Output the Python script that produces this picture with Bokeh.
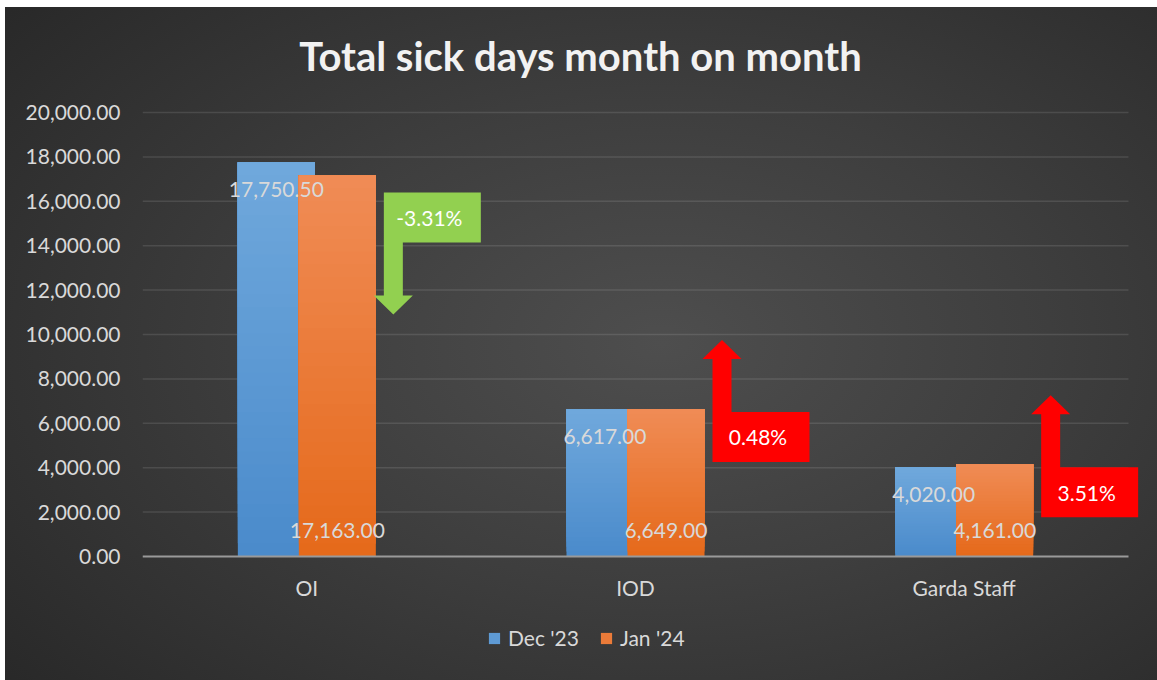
import numpy as np
from bokeh.plotting import figure
from bokeh.models import (Range1d, FixedTicker, NumeralTickFormatter, ColumnDataSource,
                          Legend, LegendItem)
from bokeh.core.properties import value
from bokeh.embed import file_html
from bokeh.resources import INLINE

# ---------------- data ----------------
categories = ["OI", "IOD", "Garda Staff"]
series_names = ["Dec '23", "Jan '24"]
dec_values = [17750.50, 6617.00, 4020.00]
jan_values = [17163.00, 6649.00, 4161.00]
y_ticks = [0, 2000, 4000, 6000, 8000, 10000, 12000, 14000, 16000, 18000, 20000]
chart_title = "Total sick days month on month"

# ---------------- layout constants (pixels) ----------------
W, H = 1152, 673
FL = 137            # left border for the value axis
GRID_TOP = 105      # top of plotting grid, from figure top
GRID_W, GRID_H = 986.0, 444.0
FONT = "Lato"
TXT = "#d9d9d9"
n = len(categories)
frame_w = W - FL
x_end = n * frame_w / GRID_W
px_x = x_end / frame_w
Y_MAX = y_ticks[-1]
px_y = Y_MAX / GRID_H
y_end = Y_MAX + GRID_TOP * px_y
y_start = -(H - GRID_TOP - GRID_H) * px_y

p = figure(width=W, height=H, x_range=Range1d(0, x_end), y_range=Range1d(y_start, y_end),
           output_backend="svg", toolbar_location=None,
           min_border_left=FL, min_border_top=0, min_border_bottom=0, min_border_right=0)
p.margin = (7, 0, 0, 5)
p.background_fill_color = None
p.border_fill_color = None
p.outline_line_color = None
p.styles = {"background": "radial-gradient(ellipse 75% 80% at 57% 50%, #4e4e4e 0%, #3e3e3e 45%, #282828 100%)"}
p.xgrid.visible = False
p.ygrid.visible = False

# title (centred on the whole chart)
p.text(x=[(W / 2 - 1 - FL) * px_x], y=[Y_MAX + (GRID_TOP - 48) * px_y], text=[chart_title],
       text_align="center", text_baseline="alphabetic", text_font=value(FONT),
       text_font_style="bold", text_font_size="40px", text_color="#f2f2f2")

# gridlines
gy = y_ticks[1:]
p.segment(x0=[0] * len(gy), x1=[n] * len(gy), y0=gy, y1=gy,
          line_color="#ffffff", line_alpha=0.11, line_width=1.5)

# bars with vertical gradient (lighter at top)
NS = 30
bar_w = 77 * px_x
half_gap = 30.5 * px_x
series_values = [dec_values, jan_values]
grad = [("#4a8bcb", "#70a8dc"), ("#e5691a", "#f08c56")]
offsets = [-half_gap, half_gap]

def hex2rgb(h):
    h = h.lstrip("#")
    return np.array([int(h[i:i + 2], 16) for i in (0, 2, 4)], dtype=float)

renderers = []
for s, vals in enumerate(series_values):
    c0, c1 = hex2rgb(grad[s][0]), hex2rgb(grad[s][1])
    xs, bottoms, tops, colors = [], [], [], []
    for k in range(NS):
        t = (k + 0.5) / NS
        c = c0 + (c1 - c0) * t
        col = "#%02x%02x%02x" % tuple(int(round(v)) for v in c)
        for i, v in enumerate(vals):
            xs.append(i + 0.5 + offsets[s])
            bottoms.append(v * k / NS)
            tops.append(v)
            colors.append(col)
    src = ColumnDataSource(dict(x=xs, bottom=bottoms, top=tops, color=colors))
    r = p.vbar(x="x", bottom="bottom", top="top", width=bar_w, source=src,
               fill_color="color", line_color=None)
    renderers.append(r)

# baseline
p.segment(x0=[0], x1=[n], y0=[0], y1=[0], line_color="#9a9a9a", line_width=2)

# data labels
p.text(x=[i + 0.5 + offsets[0] for i in range(n)], y=[v - 27 * px_y for v in dec_values],
       text=[f"{v:,.2f}" for v in dec_values], text_align="center", text_baseline="middle",
       text_font=value(FONT), text_font_size="21px", text_color=TXT)
p.text(x=[i + 0.5 + offsets[1] for i in range(n)], y=[26 * px_y] * n,
       text=[f"{v:,.2f}" for v in jan_values], text_align="center", text_baseline="middle",
       text_font=value(FONT), text_font_size="21px", text_color=TXT)

# change callouts (arrow shapes)
BOX_W, BOX_H, STEM_W, STEM_L, HEAD_W, HEAD_L = 97, 50, 19, 53, 39, 19
axs, ays, acol, tx, ty, ttxt = [], [], [], [], [], []
for i in range(n):
    d, j = dec_values[i], jan_values[i]
    pct = (j - d) / d * 100
    L = i + 0.5 + 77 * px_x
    sc = STEM_W / 2
    hh = (HEAD_W - STEM_W) / 2
    if pct < 0:
        top_px = 17
        pts = [(0, 0), (BOX_W, 0), (BOX_W, BOX_H), (STEM_W, BOX_H), (STEM_W, BOX_H + STEM_L),
               (STEM_W + hh, BOX_H + STEM_L), (sc, BOX_H + STEM_L + HEAD_L),
               (-hh, BOX_H + STEM_L), (0, BOX_H + STEM_L)]
        col = "#92d050"
    else:
        top_px = 3
        pts = [(0, BOX_H), (BOX_W, BOX_H), (BOX_W, 0), (STEM_W, 0), (STEM_W, -STEM_L),
               (STEM_W + hh, -STEM_L), (sc, -STEM_L - HEAD_L), (-hh, -STEM_L), (0, -STEM_L)]
        col = "#ff0000"
    T = j - top_px * px_y
    axs.append([L + dx * px_x for dx, dy in pts])
    ays.append([T - dy * px_y for dx, dy in pts])
    acol.append(col)
    tx.append(L + (BOX_W / 2 - 3) * px_x)
    ty.append(T - BOX_H / 2 * px_y)
    ttxt.append(f"{pct:.2f}%")

p.patches(xs=axs, ys=ays, fill_color=acol, line_color=None)
p.text(x=tx, y=ty, text=ttxt, text_align="center", text_baseline="middle",
       text_font=value(FONT), text_font_size="21px", text_color="#ffffff")

# axes
p.yaxis.ticker = FixedTicker(ticks=y_ticks)
p.yaxis.formatter = NumeralTickFormatter(format="0,0.00")
p.yaxis.axis_line_color = None
p.yaxis.major_tick_line_color = None
p.yaxis.minor_tick_line_color = None
p.yaxis.major_tick_out = 0
p.yaxis.major_label_standoff = 22
p.yaxis.major_label_text_font = FONT
p.yaxis.major_label_text_font_size = "21px"
p.yaxis.major_label_text_color = TXT

p.xaxis.fixed_location = 0
p.xaxis.ticker = FixedTicker(ticks=[i + 0.5 for i in range(n)])
p.xaxis.major_label_overrides = {i + 0.5: c for i, c in enumerate(categories)}
p.xaxis.axis_line_color = None
p.xaxis.major_tick_line_color = None
p.xaxis.minor_tick_line_color = None
p.xaxis.major_tick_out = 0
p.xaxis.major_label_standoff = 18
p.xaxis.major_label_text_font = FONT
p.xaxis.major_label_text_font_size = "21px"
p.xaxis.major_label_text_color = TXT

# legend
items = [LegendItem(label=series_names[s], renderers=[renderers[s]], index=(NS // 2) * n)
         for s in range(2)]
legend = Legend(items=items, orientation="horizontal", location=(345, 30),
                glyph_width=14, glyph_height=14, label_standoff=7, spacing=20,
                padding=0, margin=0, border_line_color=None, background_fill_alpha=0,
                label_text_font=FONT, label_text_font_size="21px", label_text_color=TXT,
                label_height=20)
p.add_layout(legend, "center")

open("out.html", "w").write(file_html(p, INLINE))
